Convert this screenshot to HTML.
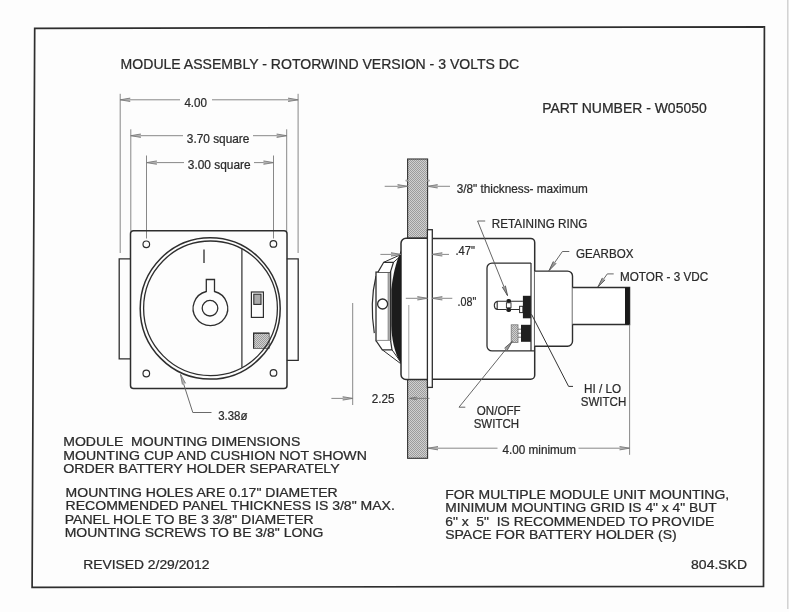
<!DOCTYPE html>
<html><head><meta charset="utf-8"><style>
html,body{margin:0;padding:0;background:#fff;width:789px;height:612px;overflow:hidden}
svg{display:block;will-change:transform}
text{font-family:"Liberation Sans",sans-serif;white-space:pre}
</style></head><body>
<svg width="789" height="612" viewBox="0 0 789 612">
<defs><pattern id="stip" patternUnits="userSpaceOnUse" width="2" height="2"><rect width="2" height="2" fill="#d0d0d0"/><rect width="1" height="1" fill="#9c9c9c"/><rect x="1" y="1" width="1" height="1" fill="#9c9c9c"/></pattern></defs>
<rect width="789" height="612" fill="#fdfdfd"/>
<path d="M34.7,28.4 L764.4,26.8 L763.5,586.3 L32.1,587.3 Z" fill="none" stroke="#2e2e2e" stroke-width="1.7"/>
<line x1="787.8" y1="0" x2="787.8" y2="609" stroke="#cfcfcf" stroke-width="1.4" />
<text x="120.60" y="68.60" font-size="14.00" textLength="398.59" lengthAdjust="spacingAndGlyphs" fill="#2b2b2b" stroke="#2b2b2b" stroke-width="0.24" >MODULE ASSEMBLY - ROTORWIND VERSION - 3 VOLTS DC</text>
<text x="542.20" y="112.80" font-size="14.00" textLength="164.50" lengthAdjust="spacingAndGlyphs" fill="#2b2b2b" stroke="#2b2b2b" stroke-width="0.24" >PART NUMBER - W05050</text>
<line x1="120.2" y1="93.8" x2="120.2" y2="253" stroke="#7a7a7a" stroke-width="0.9" />
<line x1="298.1" y1="93.8" x2="298.1" y2="253" stroke="#7a7a7a" stroke-width="0.9" />
<line x1="120.2" y1="99.8" x2="180" y2="99.8" stroke="#7a7a7a" stroke-width="0.9" />
<line x1="212" y1="99.8" x2="298.1" y2="99.8" stroke="#7a7a7a" stroke-width="0.9" />
<polygon points="120.20,99.80 130.20,98.10 130.20,101.50" fill="#b0b0b0" stroke="none"/>
<polyline points="130.20,98.10 120.20,99.80 130.20,101.50" fill="none" stroke="#7a7a7a" stroke-width="0.9" stroke-linejoin="miter"/>
<polygon points="298.10,99.80 288.10,101.50 288.10,98.10" fill="#b0b0b0" stroke="none"/>
<polyline points="288.10,101.50 298.10,99.80 288.10,98.10" fill="none" stroke="#7a7a7a" stroke-width="0.9" stroke-linejoin="miter"/>
<text x="184.40" y="106.70" font-size="12.60" textLength="22.60" lengthAdjust="spacingAndGlyphs" fill="#2b2b2b" stroke="#2b2b2b" stroke-width="0.24" >4.00</text>
<line x1="130.8" y1="129.3" x2="130.8" y2="231" stroke="#7a7a7a" stroke-width="0.9" />
<line x1="286.7" y1="129.3" x2="286.7" y2="231" stroke="#7a7a7a" stroke-width="0.9" />
<line x1="130.8" y1="135.7" x2="183" y2="135.7" stroke="#7a7a7a" stroke-width="0.9" />
<line x1="253" y1="135.7" x2="286.7" y2="135.7" stroke="#7a7a7a" stroke-width="0.9" />
<polygon points="130.80,135.70 140.80,134.00 140.80,137.40" fill="#b0b0b0" stroke="none"/>
<polyline points="140.80,134.00 130.80,135.70 140.80,137.40" fill="none" stroke="#7a7a7a" stroke-width="0.9" stroke-linejoin="miter"/>
<polygon points="286.70,135.70 276.70,137.40 276.70,134.00" fill="#b0b0b0" stroke="none"/>
<polyline points="276.70,137.40 286.70,135.70 276.70,134.00" fill="none" stroke="#7a7a7a" stroke-width="0.9" stroke-linejoin="miter"/>
<text x="186.80" y="142.80" font-size="12.60" textLength="62.60" lengthAdjust="spacingAndGlyphs" fill="#2b2b2b" stroke="#2b2b2b" stroke-width="0.24" >3.70 square</text>
<line x1="146.5" y1="155.5" x2="146.5" y2="238.5" stroke="#7a7a7a" stroke-width="0.9" />
<line x1="273.5" y1="155.5" x2="273.5" y2="238.5" stroke="#7a7a7a" stroke-width="0.9" />
<line x1="146.8" y1="162.6" x2="184" y2="162.6" stroke="#7a7a7a" stroke-width="0.9" />
<line x1="254" y1="162.6" x2="273.5" y2="162.6" stroke="#7a7a7a" stroke-width="0.9" />
<polygon points="146.80,162.60 156.80,160.90 156.80,164.30" fill="#b0b0b0" stroke="none"/>
<polyline points="156.80,160.90 146.80,162.60 156.80,164.30" fill="none" stroke="#7a7a7a" stroke-width="0.9" stroke-linejoin="miter"/>
<polygon points="273.50,162.60 263.50,164.30 263.50,160.90" fill="#b0b0b0" stroke="none"/>
<polyline points="263.50,164.30 273.50,162.60 263.50,160.90" fill="none" stroke="#7a7a7a" stroke-width="0.9" stroke-linejoin="miter"/>
<text x="187.80" y="169.40" font-size="12.60" textLength="62.90" lengthAdjust="spacingAndGlyphs" fill="#2b2b2b" stroke="#2b2b2b" stroke-width="0.24" >3.00 square</text>
<path d="M130.6,358.8 L119.2,358.8 L119.2,258.8 L130.6,258.8" fill="none" stroke="#2e2e2e" stroke-width="1.3"/>
<path d="M286.8,258.8 L298.2,258.8 L298.2,360.4 L286.8,360.4" fill="none" stroke="#2e2e2e" stroke-width="1.3"/>
<rect x="130.5" y="230.8" width="156.5" height="157.6" rx="3" fill="none" stroke="#2e2e2e" stroke-width="1.5"/>
<circle cx="146.3" cy="244.3" r="3.3" fill="none" stroke="#2e2e2e" stroke-width="1.2"/>
<circle cx="273.4" cy="243.9" r="3.3" fill="none" stroke="#2e2e2e" stroke-width="1.2"/>
<circle cx="146.3" cy="373.5" r="3.3" fill="none" stroke="#2e2e2e" stroke-width="1.2"/>
<circle cx="273.5" cy="372.9" r="3.3" fill="none" stroke="#2e2e2e" stroke-width="1.2"/>
<rect x="253.6" y="333.2" width="15.6" height="15.2" fill="url(#stip)" stroke="#555" stroke-width="0.8"/>
<path d="M253.6,348.4 L253.6,333.2 L269.2,333.2" fill="none" stroke="#2e2e2e" stroke-width="1.2"/>
<ellipse cx="210.2" cy="308.4" rx="70.0" ry="70.7" fill="none" stroke="#2e2e2e" stroke-width="1.5"/>
<ellipse cx="210.5" cy="308.3" rx="66.9" ry="67.3" fill="none" stroke="#2e2e2e" stroke-width="1.3"/>
<line x1="241.9" y1="248.5" x2="241.9" y2="367.5" stroke="#2e2e2e" stroke-width="1.2" />
<line x1="204.0" y1="249.4" x2="204.0" y2="263.0" stroke="#2e2e2e" stroke-width="1.3" />
<path d="M206.3,291.5 L206.3,279.5 L214.5,279.5 L214.5,291.5 A17.3,17.3 0 1 1 206.3,291.5 Z" fill="none" stroke="#2e2e2e" stroke-width="1.3"/>
<circle cx="210" cy="308.2" r="7.8" fill="none" stroke="#2e2e2e" stroke-width="1.3"/>
<rect x="251.4" y="292" width="12" height="25.4" fill="none" stroke="#2e2e2e" stroke-width="1.2"/>
<rect x="253.8" y="294.2" width="7.2" height="10.2" fill="#aaa" stroke="#2e2e2e" stroke-width="1.1"/>
<polyline points="211.5,412.5 192.8,412.5 180.6,374.5" stroke="#6a6a6a" stroke-width="1.0" fill="none" stroke-linejoin="miter" />
<polygon points="180.60,374.50 185.59,383.33 182.39,384.48" fill="#b0b0b0" stroke="none"/>
<polyline points="185.59,383.33 180.60,374.50 182.39,384.48" fill="none" stroke="#7a7a7a" stroke-width="0.9" stroke-linejoin="miter"/>
<text x="218.20" y="420.00" font-size="12.60" textLength="29.30" lengthAdjust="spacingAndGlyphs" fill="#2b2b2b" stroke="#2b2b2b" stroke-width="0.24" >3.38ø</text>
<rect x="407.6" y="159" width="20" height="79.2" fill="url(#stip)" stroke="#333" stroke-width="1.1"/>
<rect x="407.6" y="379.4" width="20" height="78.9" fill="url(#stip)" stroke="#333" stroke-width="1.1"/>
<path d="M427.4,238.2 L406,238.2 A5,5 0 0 0 401,243.2 L401,374.4 A5,5 0 0 0 406,379.4 L427.4,379.4" fill="#fff" stroke="#2e2e2e" stroke-width="1.5"/>
<path d="M432.3,238.4 L530.7,238.4 A4,4 0 0 1 534.7,242.4 L534.7,375.2 A4,4 0 0 1 530.7,379.2 L432.3,379.2" fill="#fff" stroke="#2e2e2e" stroke-width="1.5"/>
<rect x="427.4" y="229.7" width="4.9" height="157.7" fill="#fff" stroke="#2e2e2e" stroke-width="1.3"/>
<line x1="408.8" y1="305" x2="408.8" y2="379" stroke="#9a9a9a" stroke-width="0.9" />
<path d="M531,263.1 L492,263.1 A5,5 0 0 0 487,268.1 L487,345.9 A5,5 0 0 0 492,350.9 L534.7,350.9" fill="none" stroke="#2e2e2e" stroke-width="1.3"/>
<line x1="531" y1="263.1" x2="531" y2="350.9" stroke="#2e2e2e" stroke-width="1.2" />
<path d="M534.7,271.1 L567.5,271.1 A5,5 0 0 1 572.5,276.1 L572.5,341.2 A5,5 0 0 1 567.5,346.2 L534.7,346.2" fill="#fff" stroke="#2e2e2e" stroke-width="1.4"/>
<path d="M572.5,287.5 L629.6,287.5 L629.6,324.5 L572.5,324.5" fill="#fff" stroke="#2e2e2e" stroke-width="1.3"/>
<rect x="625" y="287.5" width="4.6" height="37" fill="#1a1a1a"/>
<path d="M506.5,301.3 L497.2,301.3 Q494.3,302.3 494.3,305.4 Q494.3,308.5 497.2,309.5 L506.5,309.5 M497.2,301.3 L497.2,309.5" fill="#fff" stroke="#2e2e2e" stroke-width="1.1"/>
<path d="M510.8,301.3 L522.9,301.3 M510.8,309.5 L519.5,309.5" stroke="#2e2e2e" stroke-width="1.1"/>
<rect x="506.4" y="298.9" width="4.6" height="4.2" rx="1.8" fill="#1f1f1f"/>
<rect x="506.4" y="307.6" width="4.6" height="4.4" rx="1.8" fill="#1f1f1f"/>
<rect x="506.4" y="302.8" width="4.6" height="5" fill="#fff" stroke="#2e2e2e" stroke-width="0.9"/>
<rect x="519.6" y="306.3" width="3.3" height="6.3" fill="#fff" stroke="#2e2e2e" stroke-width="1.0"/>
<rect x="522.9" y="295.8" width="8" height="22.5" fill="#1f1f1f"/>
<rect x="521" y="324.8" width="9.9" height="17" fill="#1f1f1f"/>
<rect x="511.2" y="324.8" width="6.8" height="17.8" fill="url(#stip)" stroke="#777" stroke-width="0.8"/>
<path d="M518,329.2 L521,329.2 M518,333.2 L521,333.2 M518,337.2 L521,337.2" stroke="#555" stroke-width="0.8"/>
<path d="M401,250.5 C396.5,261 392.8,274 391.3,290 L391.3,325 C391.6,338 394,352 401,364 Z" fill="#1c1c1c"/>
<path d="M376,276 Q369.5,303 374.3,333.2" fill="none" stroke="#2e2e2e" stroke-width="1.2"/>
<rect x="376" y="272.1" width="14.6" height="68.5" fill="#fff" stroke="#2e2e2e" stroke-width="1.3"/>
<rect x="387.6" y="273" width="2.2" height="67" fill="#9a9a9a"/>
<path d="M378,272.1 L383.7,262.3 L393.5,262.3 L390.4,272.1" fill="#fff" stroke="#2e2e2e" stroke-width="1.2"/>
<path d="M383.7,262.3 L398.8,255.5 M393.5,262.3 L399.5,257" fill="none" stroke="#2e2e2e" stroke-width="1.0"/>
<path d="M376,340.6 L382.3,349.8 L392,349.8 L390.6,340.6" fill="#fff" stroke="#2e2e2e" stroke-width="1.2"/>
<path d="M382.3,349.8 L400.5,363.5 M392,349.8 L400,361" fill="none" stroke="#2e2e2e" stroke-width="1.0"/>
<circle cx="382.6" cy="304" r="5" fill="#fff" stroke="#2e2e2e" stroke-width="1.3"/>
<circle cx="406.6" cy="180.6" r="1.2" fill="#aaa"/><circle cx="428.6" cy="180.6" r="1.2" fill="#aaa"/>
<line x1="384.7" y1="186.3" x2="407.6" y2="186.3" stroke="#7a7a7a" stroke-width="0.9" />
<polygon points="407.60,186.30 397.60,188.00 397.60,184.60" fill="#b0b0b0" stroke="none"/>
<polyline points="397.60,188.00 407.60,186.30 397.60,184.60" fill="none" stroke="#7a7a7a" stroke-width="0.9" stroke-linejoin="miter"/>
<line x1="427.6" y1="186.3" x2="450" y2="186.3" stroke="#7a7a7a" stroke-width="0.9" />
<polygon points="427.60,186.30 437.60,184.60 437.60,188.00" fill="#b0b0b0" stroke="none"/>
<polyline points="437.60,184.60 427.60,186.30 437.60,188.00" fill="none" stroke="#7a7a7a" stroke-width="0.9" stroke-linejoin="miter"/>
<text x="456.70" y="193.10" font-size="12.60" textLength="131.10" lengthAdjust="spacingAndGlyphs" fill="#2b2b2b" stroke="#2b2b2b" stroke-width="0.24" >3/8&quot; thickness- maximum</text>
<line x1="380.4" y1="254.4" x2="401" y2="254.4" stroke="#7a7a7a" stroke-width="0.9" />
<polygon points="401.00,254.40 391.00,256.10 391.00,252.70" fill="#b0b0b0" stroke="none"/>
<polyline points="391.00,256.10 401.00,254.40 391.00,252.70" fill="none" stroke="#7a7a7a" stroke-width="0.9" stroke-linejoin="miter"/>
<line x1="432.3" y1="254.4" x2="449" y2="254.4" stroke="#7a7a7a" stroke-width="0.9" />
<polygon points="432.30,254.40 442.30,252.70 442.30,256.10" fill="#b0b0b0" stroke="none"/>
<polyline points="442.30,252.70 432.30,254.40 442.30,256.10" fill="none" stroke="#7a7a7a" stroke-width="0.9" stroke-linejoin="miter"/>
<text x="455.40" y="254.70" font-size="12.60" textLength="19.50" lengthAdjust="spacingAndGlyphs" fill="#2b2b2b" stroke="#2b2b2b" stroke-width="0.24" >.47&quot;</text>
<line x1="405.8" y1="298.3" x2="427.4" y2="298.3" stroke="#7a7a7a" stroke-width="0.9" />
<polygon points="427.40,298.30 417.40,300.00 417.40,296.60" fill="#b0b0b0" stroke="none"/>
<polyline points="417.40,300.00 427.40,298.30 417.40,296.60" fill="none" stroke="#7a7a7a" stroke-width="0.9" stroke-linejoin="miter"/>
<line x1="432.3" y1="298.3" x2="452.3" y2="298.3" stroke="#7a7a7a" stroke-width="0.9" />
<polygon points="432.30,298.30 442.30,296.60 442.30,300.00" fill="#b0b0b0" stroke="none"/>
<polyline points="442.30,296.60 432.30,298.30 442.30,300.00" fill="none" stroke="#7a7a7a" stroke-width="0.9" stroke-linejoin="miter"/>
<text x="457.60" y="306.20" font-size="12.60" textLength="18.70" lengthAdjust="spacingAndGlyphs" fill="#2b2b2b" stroke="#2b2b2b" stroke-width="0.24" >.08&quot;</text>
<line x1="352.7" y1="303" x2="352.7" y2="405" stroke="#7a7a7a" stroke-width="0.9" />
<line x1="331.4" y1="398.4" x2="352.7" y2="398.4" stroke="#7a7a7a" stroke-width="0.9" />
<polygon points="352.70,398.40 342.70,400.10 342.70,396.70" fill="#b0b0b0" stroke="none"/>
<polyline points="342.70,400.10 352.70,398.40 342.70,396.70" fill="none" stroke="#7a7a7a" stroke-width="0.9" stroke-linejoin="miter"/>
<line x1="409.7" y1="398.4" x2="429.5" y2="398.4" stroke="#666" stroke-width="0.7" />
<polygon points="409.70,398.40 416.70,397.10 416.70,399.70" fill="#999" stroke="none"/>
<polyline points="416.70,397.10 409.70,398.40 416.70,399.70" fill="none" stroke="#666" stroke-width="0.7" stroke-linejoin="miter"/>
<text x="371.70" y="402.70" font-size="12.60" textLength="22.80" lengthAdjust="spacingAndGlyphs" fill="#2b2b2b" stroke="#2b2b2b" stroke-width="0.24" >2.25</text>
<line x1="629.6" y1="324.5" x2="629.6" y2="454.8" stroke="#7a7a7a" stroke-width="0.9" />
<line x1="428" y1="448.2" x2="497.5" y2="448.2" stroke="#7a7a7a" stroke-width="0.9" />
<line x1="578.5" y1="448.2" x2="629.6" y2="448.2" stroke="#7a7a7a" stroke-width="0.9" />
<polygon points="428.00,448.20 438.00,446.50 438.00,449.90" fill="#b0b0b0" stroke="none"/>
<polyline points="438.00,446.50 428.00,448.20 438.00,449.90" fill="none" stroke="#7a7a7a" stroke-width="0.9" stroke-linejoin="miter"/>
<polygon points="629.60,448.20 619.60,449.90 619.60,446.50" fill="#b0b0b0" stroke="none"/>
<polyline points="619.60,449.90 629.60,448.20 619.60,446.50" fill="none" stroke="#7a7a7a" stroke-width="0.9" stroke-linejoin="miter"/>
<text x="502.60" y="454.20" font-size="12.60" textLength="73.50" lengthAdjust="spacingAndGlyphs" fill="#2b2b2b" stroke="#2b2b2b" stroke-width="0.24" >4.00 minimum</text>
<polyline points="485.2,221 477.6,221 507.5,295.6" stroke="#555" stroke-width="0.9" fill="none" stroke-linejoin="miter" />
<polygon points="507.50,295.60 502.22,286.94 505.38,285.68" fill="#999" stroke="none"/>
<polyline points="502.22,286.94 507.50,295.60 505.38,285.68" fill="none" stroke="#555" stroke-width="0.9" stroke-linejoin="miter"/>
<text x="491.80" y="227.90" font-size="12.80" textLength="95.51" lengthAdjust="spacingAndGlyphs" fill="#2b2b2b" stroke="#2b2b2b" stroke-width="0.24" >RETAINING RING</text>
<polyline points="569.3,251.5 562.4,251.5 549,270.6" stroke="#555" stroke-width="0.9" fill="none" stroke-linejoin="miter" />
<polygon points="549.00,270.60 553.33,261.43 556.11,263.37" fill="#999" stroke="none"/>
<polyline points="553.33,261.43 549.00,270.60 556.11,263.37" fill="none" stroke="#555" stroke-width="0.9" stroke-linejoin="miter"/>
<text x="576.10" y="258.40" font-size="12.80" textLength="57.30" lengthAdjust="spacingAndGlyphs" fill="#2b2b2b" stroke="#2b2b2b" stroke-width="0.24" >GEARBOX</text>
<polyline points="613.7,273.9 607.3,273.9 597.9,287" stroke="#555" stroke-width="0.9" fill="none" stroke-linejoin="miter" />
<polygon points="597.90,287.00 602.36,277.89 605.12,279.88" fill="#999" stroke="none"/>
<polyline points="602.36,277.89 597.90,287.00 605.12,279.88" fill="none" stroke="#555" stroke-width="0.9" stroke-linejoin="miter"/>
<text x="620.00" y="280.70" font-size="12.80" textLength="88.20" lengthAdjust="spacingAndGlyphs" fill="#2b2b2b" stroke="#2b2b2b" stroke-width="0.24" >MOTOR - 3 VDC</text>
<polyline points="573,386.4 568.6,386.4 531.5,314.3" stroke="#333" stroke-width="1.0" fill="none" stroke-linejoin="miter" />
<text x="584.00" y="392.70" font-size="12.80" textLength="37.01" lengthAdjust="spacingAndGlyphs" fill="#2b2b2b" stroke="#2b2b2b" stroke-width="0.24" >HI / LO</text>
<text x="580.70" y="405.70" font-size="12.80" textLength="45.60" lengthAdjust="spacingAndGlyphs" fill="#2b2b2b" stroke="#2b2b2b" stroke-width="0.24" >SWITCH</text>
<polyline points="465.3,407.2 459,407.2 512.2,341.5" stroke="#555" stroke-width="0.9" fill="none" stroke-linejoin="miter" />
<polygon points="512.20,341.50 507.16,350.30 504.53,348.14" fill="#999" stroke="none"/>
<polyline points="507.16,350.30 512.20,341.50 504.53,348.14" fill="none" stroke="#555" stroke-width="0.9" stroke-linejoin="miter"/>
<text x="476.80" y="415.20" font-size="12.80" textLength="43.80" lengthAdjust="spacingAndGlyphs" fill="#2b2b2b" stroke="#2b2b2b" stroke-width="0.24" >ON/OFF</text>
<text x="473.70" y="427.70" font-size="12.80" textLength="45.30" lengthAdjust="spacingAndGlyphs" fill="#2b2b2b" stroke="#2b2b2b" stroke-width="0.24" >SWITCH</text>
<text x="63.20" y="446.30" font-size="12.80" textLength="237.10" lengthAdjust="spacingAndGlyphs" fill="#2b2b2b" stroke="#2b2b2b" stroke-width="0.24" >MODULE  MOUNTING DIMENSIONS</text>
<text x="63.20" y="459.60" font-size="12.80" textLength="303.69" lengthAdjust="spacingAndGlyphs" fill="#2b2b2b" stroke="#2b2b2b" stroke-width="0.24" >MOUNTING CUP AND CUSHION NOT SHOWN</text>
<text x="63.20" y="473.10" font-size="12.80" textLength="276.51" lengthAdjust="spacingAndGlyphs" fill="#2b2b2b" stroke="#2b2b2b" stroke-width="0.24" >ORDER BATTERY HOLDER SEPARATELY</text>
<text x="65.60" y="496.90" font-size="12.80" textLength="272.09" lengthAdjust="spacingAndGlyphs" fill="#2b2b2b" stroke="#2b2b2b" stroke-width="0.24" >MOUNTING HOLES ARE 0.17&quot; DIAMETER</text>
<text x="65.60" y="510.20" font-size="12.80" textLength="329.30" lengthAdjust="spacingAndGlyphs" fill="#2b2b2b" stroke="#2b2b2b" stroke-width="0.24" >RECOMMENDED PANEL THICKNESS IS 3/8&quot; MAX.</text>
<text x="64.70" y="524.00" font-size="12.80" textLength="249.00" lengthAdjust="spacingAndGlyphs" fill="#2b2b2b" stroke="#2b2b2b" stroke-width="0.24" >PANEL HOLE TO BE 3 3/8&quot; DIAMETER</text>
<text x="64.70" y="537.10" font-size="12.80" textLength="258.60" lengthAdjust="spacingAndGlyphs" fill="#2b2b2b" stroke="#2b2b2b" stroke-width="0.24" >MOUNTING SCREWS TO BE 3/8&quot; LONG</text>
<text x="83.20" y="568.90" font-size="12.80" textLength="126.30" lengthAdjust="spacingAndGlyphs" fill="#2b2b2b" stroke="#2b2b2b" stroke-width="0.24" >REVISED 2/29/2012</text>
<text x="445.20" y="498.70" font-size="12.80" textLength="284.00" lengthAdjust="spacingAndGlyphs" fill="#2b2b2b" stroke="#2b2b2b" stroke-width="0.24" >FOR MULTIPLE MODULE UNIT MOUNTING,</text>
<text x="445.20" y="512.40" font-size="12.80" textLength="271.40" lengthAdjust="spacingAndGlyphs" fill="#2b2b2b" stroke="#2b2b2b" stroke-width="0.24" >MINIMUM MOUNTING GRID IS 4&quot; x 4&quot; BUT</text>
<text x="445.20" y="525.60" font-size="12.80" textLength="269.10" lengthAdjust="spacingAndGlyphs" fill="#2b2b2b" stroke="#2b2b2b" stroke-width="0.24" >6&quot; x  5&quot;  IS RECOMMENDED TO PROVIDE</text>
<text x="445.20" y="538.80" font-size="12.80" textLength="231.50" lengthAdjust="spacingAndGlyphs" fill="#2b2b2b" stroke="#2b2b2b" stroke-width="0.24" >SPACE FOR BATTERY HOLDER (S)</text>
<text x="691.10" y="569.00" font-size="12.80" textLength="55.91" lengthAdjust="spacingAndGlyphs" fill="#2b2b2b" stroke="#2b2b2b" stroke-width="0.24" >804.SKD</text>
</svg>
</body></html>
